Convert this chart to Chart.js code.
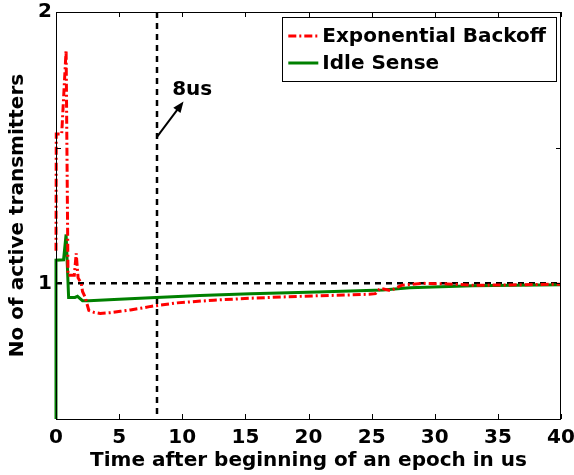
<!DOCTYPE html>
<html>
<head>
<meta charset="utf-8">
<script src="https://cdn.jsdelivr.net/npm/chart.js@4.4.1/dist/chart.umd.min.js"></script>
<style>
  html, body { margin: 0; padding: 0; background: #fff; }
</style>
</head>
<body>
<canvas id="myChart" width="574" height="475"></canvas>
<script>
/* Active transmitters after the start of an epoch */

const seriesNames = ['Exponential Backoff', 'Idle Sense'];

// Exponential Backoff
const backoffTime = [0, 0.02, 0.45, 0.8, 0.95, 1.45, 1.6, 1.75, 2.0, 2.1, 2.3, 2.6, 3.0, 3.5, 4.3, 5.1, 5.9, 6.7, 7.5, 9.6, 12.5, 15.4, 18, 20.7, 23, 24.8, 25.3, 25.7, 26.5, 27.4, 29, 31, 33, 36, 40];
const backoffValues = [1.12, 1.55, 1.55, 1.86, 1.03, 1.03, 1.11, 1.02, 1.0, 0.97, 0.95, 0.9, 0.893, 0.889, 0.892, 0.897, 0.902, 0.908, 0.915, 0.928, 0.938, 0.945, 0.95, 0.954, 0.957, 0.96, 0.962, 0.982, 0.973, 0.993, 1.0, 0.998, 0.993, 0.994, 0.997];

// Idle Sense
const idleTime = [0, 0, 0.6, 0.8, 1.0, 1.5, 1.7, 2.1, 2.6, 5, 7.5, 11.4, 15.4, 20.7, 25.9, 26.6, 28, 33, 40];
const idleValues = [0.5, 1.085, 1.087, 1.18, 0.948, 0.948, 0.952, 0.936, 0.936, 0.941, 0.947, 0.955, 0.962, 0.968, 0.975, 0.978, 0.984, 0.991, 0.995];

const xTicks = [0, 5, 10, 15, 20, 25, 30, 35, 40];
const yTicks = [0.5, 1, 1.5, 2];
const yTickLabels = ['', '1', '', '2'];

const refLevel = 1;
const markTime = 8;
const markLabel = '8us';

const FONT = { family: '"DejaVu Sans", sans-serif', size: 20, weight: 'bold' };
const fontStr = 'bold 20px "DejaVu Sans", sans-serif';

function toPoints(xs, ys) {
  return xs.map((t, i) => ({ x: t, y: ys[i] }));
}

// dashed guides, box with inner ticks, arrow note and legend
const figureDecor = {
  id: 'figureDecor',
  beforeDatasetsDraw(chart) {
    const { ctx, chartArea: a, scales: { x, y } } = chart;
    ctx.save();
    ctx.strokeStyle = '#000';
    ctx.lineWidth = 2.5;
    ctx.setLineDash([6, 5]);
    const yr = y.getPixelForValue(refLevel);
    ctx.beginPath();
    ctx.moveTo(a.left, yr);
    ctx.lineTo(a.right, yr);
    ctx.stroke();
    const xm = x.getPixelForValue(markTime);
    ctx.beginPath();
    ctx.moveTo(xm, a.top);
    ctx.lineTo(xm, a.bottom);
    ctx.stroke();
    ctx.restore();
  },
  afterDatasetsDraw(chart) {
    const { ctx, chartArea: a, scales: { x, y } } = chart;
    ctx.save();

    // axes box
    ctx.strokeStyle = '#000';
    ctx.lineWidth = 1;
    ctx.setLineDash([]);
    ctx.strokeRect(a.left + 0.5, a.top + 0.5, a.right - a.left - 1, a.bottom - a.top);

    // tick marks pointing inwards
    const tl = 5;
    ctx.beginPath();
    xTicks.forEach(v => {
      const px = Math.round(x.getPixelForValue(v)) + 0.5;
      ctx.moveTo(px, a.bottom); ctx.lineTo(px, a.bottom - tl);
      ctx.moveTo(px, a.top); ctx.lineTo(px, a.top + tl);
    });
    yTicks.forEach(v => {
      const py = Math.round(y.getPixelForValue(v)) + 0.5;
      ctx.moveTo(a.left, py); ctx.lineTo(a.left + tl, py);
      ctx.moveTo(a.right, py); ctx.lineTo(a.right - tl, py);
    });
    ctx.stroke();

    // arrow pointing to the 8us label
    const x0 = x.getPixelForValue(markTime), y0 = y.getPixelForValue(1.54);
    const x1 = x.getPixelForValue(10.1), y1 = y.getPixelForValue(1.67);
    const ang = Math.atan2(y1 - y0, x1 - x0);
    ctx.lineWidth = 2;
    ctx.beginPath();
    ctx.moveTo(x0, y0);
    ctx.lineTo(x1 - 8 * Math.cos(ang), y1 - 8 * Math.sin(ang));
    ctx.stroke();
    ctx.beginPath();
    ctx.moveTo(x1, y1);
    ctx.lineTo(x1 - 11 * Math.cos(ang) + 4.5 * Math.sin(ang), y1 - 11 * Math.sin(ang) - 4.5 * Math.cos(ang));
    ctx.lineTo(x1 - 11 * Math.cos(ang) - 4.5 * Math.sin(ang), y1 - 11 * Math.sin(ang) + 4.5 * Math.cos(ang));
    ctx.closePath();
    ctx.fillStyle = '#000';
    ctx.fill();

    ctx.font = fontStr;
    ctx.textBaseline = 'middle';
    ctx.textAlign = 'left';
    ctx.fillText(markLabel, x.getPixelForValue(9.2), y.getPixelForValue(1.715));

    // legend box in the upper right corner
    const sets = chart.data.datasets;
    const textW = Math.max(...sets.map(d => ctx.measureText(d.label).width));
    const right = a.right - 5, top = a.top + 5;
    const left = right - (40 + textW + 10);
    const rowH = 27;
    ctx.fillStyle = '#fff';
    ctx.fillRect(left, top, right - left, rowH * sets.length + 10);
    ctx.strokeStyle = '#000';
    ctx.lineWidth = 1;
    ctx.strokeRect(Math.round(left) + 0.5, top + 0.5, Math.round(right - left), rowH * sets.length + 10);
    sets.forEach((d, i) => {
      const cy = top + 19 + i * rowH;
      ctx.strokeStyle = d.borderColor;
      ctx.lineWidth = d.borderWidth;
      ctx.setLineDash(d.borderDash || []);
      ctx.beginPath();
      ctx.moveTo(left + 6, cy);
      ctx.lineTo(left + 36, cy);
      ctx.stroke();
      ctx.setLineDash([]);
      ctx.fillStyle = '#000';
      ctx.fillText(d.label, left + 40, cy + 1);
    });
    ctx.restore();
  }
};

function initChart() {
  const ctx = document.getElementById('myChart').getContext('2d');

  // eslint-disable-next-line no-unused-vars
  const myChart = new Chart(ctx, {
    type: 'line',
    data: {
      datasets: [{
        label: seriesNames[0],
        data: toPoints(backoffTime, backoffValues),
        borderColor: '#ff0000',
        borderWidth: 3,
        borderDash: [8, 3, 2, 3],
        pointRadius: 0,
        tension: 0,
        fill: false,
        clip: false,
      },
      {
        label: seriesNames[1],
        data: toPoints(idleTime, idleValues),
        borderColor: '#008000',
        borderWidth: 3,
        pointRadius: 0,
        tension: 0,
        fill: false,
        clip: false,
      }]
    },
    options: {
      responsive: false,
      animation: false,
      devicePixelRatio: 1,
      layout: { padding: { top: 12, right: 13, left: 0, bottom: 0 } },
      plugins: {
        legend: { display: false },
        tooltip: { enabled: false },
      },
      scales: {
        x: {
          type: 'linear',
          min: 0,
          max: 40,
          afterBuildTicks: s => { s.ticks = xTicks.map(v => ({ value: v })); },
          afterFit: s => { s.height = 56; s.paddingLeft = 0; s.paddingRight = 0; },
          grid: { display: false, drawTicks: false },
          border: { display: false },
          ticks: { color: '#000', font: FONT, padding: 7, maxRotation: 0 },
          title: {
            display: true,
            text: 'Time after beginning of an epoch in us',
            color: '#000',
            font: FONT,
            padding: { top: 0, bottom: 2 },
          },
        },
        y: {
          type: 'linear',
          min: 0.5,
          max: 2,
          afterBuildTicks: s => { s.ticks = yTicks.map(v => ({ value: v })); },
          afterFit: s => { s.width = 56; s.paddingTop = 0; s.paddingBottom = 0; },
          grid: { display: false, drawTicks: false },
          border: { display: false },
          ticks: {
            color: '#000',
            font: FONT,
            padding: 4,
            callback: (v) => yTickLabels[yTicks.indexOf(v)],
          },
          title: {
            display: true,
            text: 'No of active transmitters',
            color: '#000',
            font: FONT,
            padding: { top: 6, bottom: 0 },
          },
        },
      },
    },
    plugins: [figureDecor],
  });
}

const app = () => {
  initChart();
};

app();
</script>
</body>
</html>
